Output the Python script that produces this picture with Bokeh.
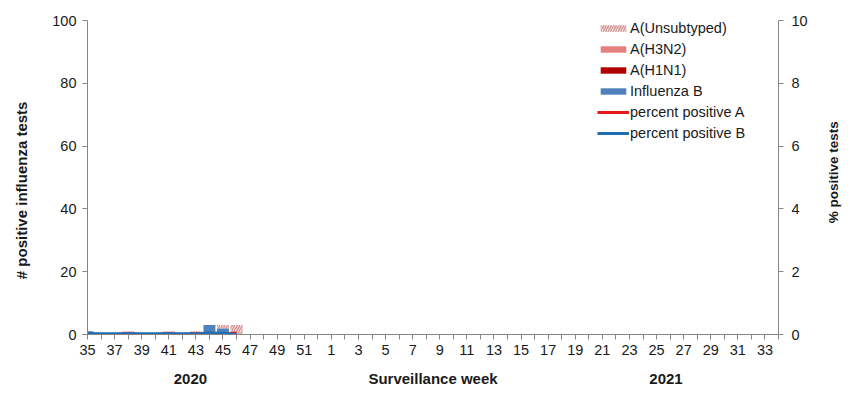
import math
from bokeh.plotting import figure
from bokeh.models import (Range1d, LinearAxis, FixedTicker, Legend, LegendItem,
                          ColumnDataSource)
from bokeh.embed import file_html
from bokeh.resources import INLINE

# ---- data -------------------------------------------------------------
weeks = [35, 36, 37, 38, 39, 40, 41, 42, 43, 44, 45, 46, 47, 48, 49, 50, 51, 52,
         1, 2, 3, 4, 5, 6, 7, 8, 9, 10, 11, 12, 13, 14, 15, 16, 17, 18, 19, 20,
         21, 22, 23, 24, 25, 26, 27, 28, 29, 30, 31, 32, 33, 34]
# counts per week for weeks 35..46 (data available so far)
influenza_b = [1, 0, 0, 0, 0, 0, 0, 0, 0, 3, 2, 0]
a_h1n1 = [0, 0, 0, 0, 0, 0, 0, 0, 0, 0, 0, 0]
a_h3n2 = [0, 0, 0, 0, 0, 0, 0, 0, 0, 0, 0, 0]
a_unsubtyped = [0, 0, 0, 1, 0, 0, 1, 0, 1, 0, 1, 3]
pct_pos_a = [0.0, 0.0, 0.0, 0.02, 0.0, 0.0, 0.02, 0.0, 0.02, 0.0, 0.02, 0.05]
pct_pos_b = [0.03, 0.02, 0.02, 0.02, 0.02, 0.02, 0.02, 0.02, 0.02, 0.05, 0.04, 0.0]
year_labels = ["2020", "2021"]

n_data = len(influenza_b)
idx = list(range(n_data))

src = ColumnDataSource(dict(x=idx, b=influenza_b, h1=a_h1n1, h3=a_h3n2, un=a_unsubtyped))

FONT = "Liberation Sans"
GREY = "#868686"
TXT = "#1a1a1a"

p = figure(width=851, height=390, output_backend="svg", toolbar_location=None,
           x_range=Range1d(0, len(weeks) - 1), y_range=Range1d(0, 100),
           min_border_left=87, min_border_right=73, min_border_top=20,
           min_border_bottom=56, outline_line_color=None)
p.xgrid.visible = False
p.ygrid.visible = False
p.background_fill_color = "white"

p.extra_y_ranges = {"pct": Range1d(0, 10)}

bars = p.vbar_stack(["b", "h1", "h3", "un"], x="x", width=0.88, source=src,
                    fill_color=["#4f81bd", "#b00000", "#e6807e", "#f7e6e6"],
                    line_color=None,
                    hatch_pattern=[" ", " ", " ", "/"],
                    hatch_color=["#4f81bd", "#b00000", "#e6807e", "#d69a98"],
                    hatch_weight=[1, 1, 1, 1.6], hatch_scale=[6, 6, 6, 5])

la = p.line(idx, pct_pos_a, y_range_name="pct", line_color="#e8191b", line_width=3)
lb = p.line(idx, pct_pos_b, y_range_name="pct", line_color="#1f6eb4", line_width=3)

# ---- axes -------------------------------------------------------------
def style(ax):
    ax.axis_line_color = GREY
    ax.major_tick_line_color = GREY
    ax.major_tick_out = 5
    ax.major_tick_in = 0
    ax.minor_tick_line_color = None
    ax.major_label_text_font = FONT
    ax.major_label_text_font_size = "14.5px"
    ax.major_label_text_color = TXT

def title_axis(ax, standoff, size="15px"):
    ax.axis_line_color = None
    ax.major_tick_line_color = None
    ax.minor_tick_line_color = None
    ax.major_label_text_font = FONT
    ax.major_label_text_font_size = size
    ax.major_label_text_font_style = "bold"
    ax.major_label_text_color = TXT
    ax.major_label_standoff = standoff

xa = p.xaxis[0]
style(xa)
xa.ticker = FixedTicker(ticks=list(range(len(weeks))))
xa.major_label_overrides = {i: (str(w) if i % 2 == 0 else "") for i, w in enumerate(weeks)}
xa.major_label_standoff = 5

ya = p.yaxis[0]
style(ya)
ya.ticker = FixedTicker(ticks=[0, 20, 40, 60, 80, 100])
ya.major_label_standoff = 6

ra = LinearAxis(y_range_name="pct", ticker=FixedTicker(ticks=[0, 2, 4, 6, 8, 10]))
style(ra)
ra.major_label_standoff = 8
p.add_layout(ra, "right")

# title "axes" (text only), positioned like the reference
xt = LinearAxis(ticker=FixedTicker(ticks=[7.6, 25.5, 42.7]),
                major_label_overrides={7.6: year_labels[0], 25.5: "Surveillance week",
                                       42.7: year_labels[1]})
title_axis(xt, 6)
p.add_layout(xt, "below")

yt = LinearAxis(ticker=FixedTicker(ticks=[45.9]),
                major_label_overrides={45.9: "# positive influenza tests"},
                major_label_orientation="vertical")
title_axis(yt, 13)
p.add_layout(yt, "left")

rt = LinearAxis(y_range_name="pct", ticker=FixedTicker(ticks=[3.54]),
                major_label_overrides={3.54: "% positive tests"},
                major_label_orientation=math.pi / 2)
title_axis(rt, 17, "13.5px")
p.add_layout(rt, "right")

# ---- legend -----------------------------------------------------------
legend = Legend(items=[
    LegendItem(label="A(Unsubtyped)", renderers=[bars[3]]),
    LegendItem(label="A(H3N2)", renderers=[bars[2]]),
    LegendItem(label="A(H1N1)", renderers=[bars[1]]),
    LegendItem(label="Influenza B", renderers=[bars[0]]),
    LegendItem(label="percent positive A", renderers=[la]),
    LegendItem(label="percent positive B", renderers=[lb]),
], location=(510, 191), orientation="vertical",
    glyph_width=32, glyph_height=8, label_height=21, label_standoff=1,
    spacing=0, padding=0, margin=0,
    label_text_font=FONT, label_text_font_size="14.5px", label_text_color=TXT,
    background_fill_alpha=0, border_line_color=None)
p.add_layout(legend, "center")

open("out.html", "w").write(file_html(p, INLINE))
